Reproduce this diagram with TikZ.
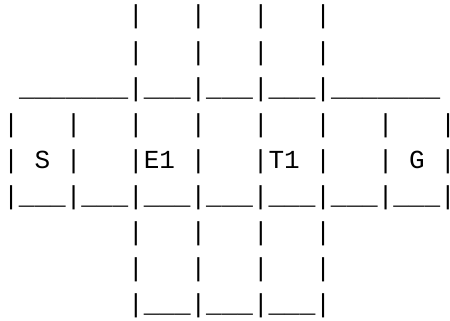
\documentclass[tikz,border=0pt]{standalone}
\usepackage{fontspec}
\setmonofont{Liberation Mono}
\newcommand{\bars}{\_\_\_}
\newcommand{\lastbar}{\rlap{|}}

\begin{document}
\begin{tikzpicture}[x=1pt, y=-1pt, every node/.style={inner sep=0pt, anchor=base west}]
	\tikzset{asciirow/.style={font=\ttfamily\fontsize{26}{36}\selectfont}}
	\useasboundingbox (0,0) rectangle (450,321);
	% shafts above and below the corridor
	\foreach \r/\y in {1/24, 2/60, 7/240, 8/276} {
		\node[asciirow] (row\r) at (3.2,\y) {~~~~~~~~|~~~|~~~|~~~|};
	}
	\node[asciirow] (row3) at (3.2,96) {~\_\_\_\_\_\_\_|\bars|\bars|\bars|\_\_\_\_\_\_\_};
	\node[asciirow] (row4) at (3.2,132) {|~~~|~~~|~~~|~~~|~~~|~~~|~~~|~~~\lastbar};
	\node[asciirow] (row5) at (3.2,168) {|~S~|~~~|E1~|~~~|T1~|~~~|~G~\lastbar};
	\node[asciirow] (row6) at (3.2,204) {|\bars|\bars|\bars|\bars|\bars|\bars|\bars|\bars\lastbar};
	\node[asciirow] (row9) at (3.2,312) {~~~~~~~~|\bars|\bars|\bars|};
\end{tikzpicture}
\end{document}
